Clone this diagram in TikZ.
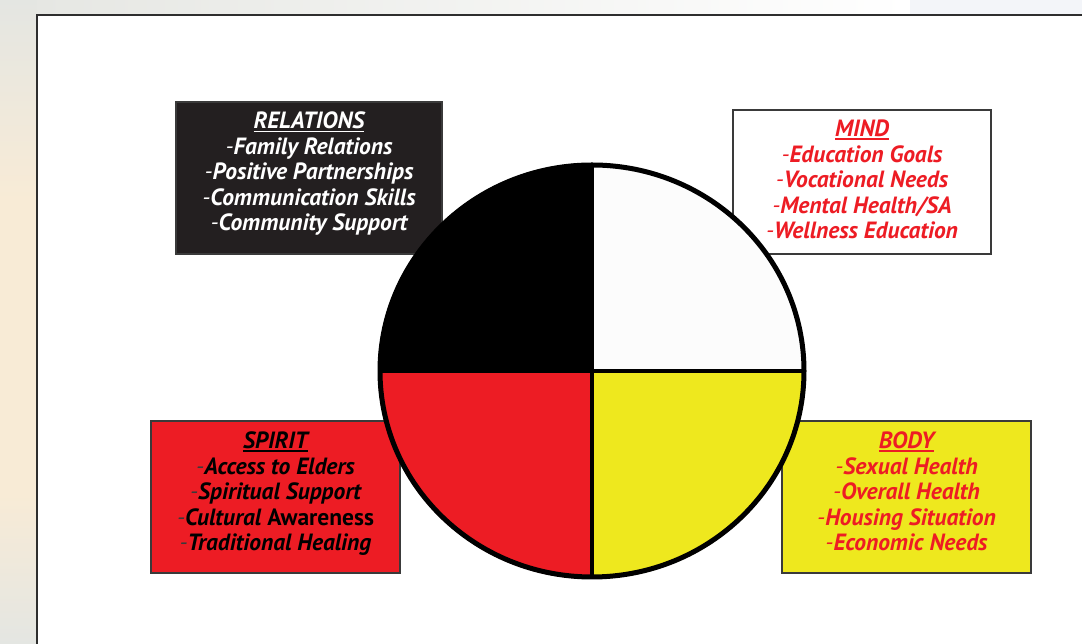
\documentclass[tikz,border=0pt]{standalone}
\usepackage{fontspec}
\setmainfont{PT Sans}
\definecolor{boxblack}{HTML}{231F20}
\definecolor{wheelred}{HTML}{ED1C24}
\definecolor{wheelyellow}{HTML}{EEE81E}
\definecolor{wheelwhite}{HTML}{FCFCFC}
\definecolor{frameline}{HTML}{2E2E2E}
\definecolor{boxline}{HTML}{3A3A3A}
\definecolor{sidegrey}{HTML}{E4E6E2}
\definecolor{sidebeige}{HTML}{F8EBD6}
\definecolor{topgrey}{HTML}{E6E7E3}
\definecolor{toppale}{HTML}{F3F5F9}
% leading dash of each list entry, set lighter than the words
\newcommand\itemdash{{\mdseries -}}
% heading with a heavy underline
\newcommand\headline[1]{\setbox0=\hbox{#1}\leavevmode\rlap{\rule[-3.4pt]{\wd0}{1.8pt}}\box0}
\tikzset{
  panel/.style={draw=boxline, line width=1.2pt, inner sep=0pt,
    minimum width=#1},
  panel/.default=249,
  listtext/.style={align=center, inner sep=0pt,
    font=\fontsize{23.5}{25.5}\selectfont\bfseries\itshape},
  wheeledge/.style={draw=black, line width=5pt},
  wheelcross/.style={draw=black, line width=4pt}
}
\begin{document}
\begin{tikzpicture}[x=1pt,y=1pt]
\useasboundingbox (0,0) rectangle (1082,644);
% surrounding backdrop
\fill[sidegrey] (0,0) rectangle (1082,644);
\shade[top color=sidegrey, bottom color=sidebeige] (0,444) rectangle (37,644);
\fill[sidebeige] (0,150) rectangle (37,444);
\shade[top color=sidebeige, bottom color=sidegrey] (0,0) rectangle (37,150);
\shade[left color=topgrey, right color=white] (37,629) rectangle (910,644);
\fill[toppale] (910,629) rectangle (1082,644);
% page frame
\fill[white] (37,-5) rectangle (1090,629);
\draw[frameline, line width=2pt] (37,-5) -- (37,629) -- (1090,629);

% four panels
\node[panel=266, fill=boxblack, minimum height=152] (relbox) at (309,466) {};
\node[panel=258, fill=white, minimum height=144] (mindbox) at (862,462) {};
\node[panel, fill=wheelred, minimum height=152] (spiritbox) at (275.5,147) {};
\node[panel, fill=wheelyellow, minimum height=152] (bodybox) at (906.5,147) {};

% medicine wheel
\coordinate (hub) at (592,273);
\coordinate (north) at (592,481);
\coordinate (south) at (592,65);
\coordinate (west) at (378,273);
\coordinate (east) at (806,273);
\fill[black] (hub) -- (west) arc[start angle=180, end angle=90, x radius=214, y radius=208] -- cycle;
\fill[wheelwhite] (hub) -- (north) arc[start angle=90, end angle=0, x radius=214, y radius=208] -- cycle;
\fill[wheelyellow] (hub) -- (east) arc[start angle=0, end angle=-90, x radius=214, y radius=208] -- cycle;
\fill[wheelred] (hub) -- (south) arc[start angle=-90, end angle=-180, x radius=214, y radius=208] -- cycle;
\draw[wheelcross] (north) -- (south);
\draw[wheelcross] (west) -- (east);
\draw[wheeledge] (hub) ellipse[x radius=212, y radius=206];

% panel texts
\node[listtext, text=white] (reltext) at ([yshift=4pt]relbox.center)
  {\headline{RELATIONS}\\ \itemdash Family Relations\\ \itemdash Positive Partnerships\\
   \itemdash Communication Skills\\ \itemdash Community Support};
\node[listtext, text=wheelred] (mindtext) at ([yshift=2.5pt]mindbox.center)
  {\headline{MIND}\\ \itemdash Education Goals\\ \itemdash Vocational Needs\\
   \itemdash Mental Health/SA\\ \itemdash Wellness Education};
\node[listtext, text=black] (spirittext) at ([yshift=3pt]spiritbox.center)
  {\headline{SPIRIT}\\ {\color{boxline}\itemdash}Access to Elders\\ {\color{boxline}\itemdash}Spiritual Support\\
   {\color{boxline}\itemdash}Cultural {\upshape Awareness}\\ {\color{boxline}\itemdash}Traditional Healing};
\node[listtext, text=wheelred] (bodytext) at ([yshift=5.5pt]bodybox.center)
  {\headline{BODY}\\ \itemdash Sexual Health\\ \itemdash Overall Health\\
   \itemdash Housing Situation\\ \itemdash Economic Needs};
\end{tikzpicture}
\end{document}
